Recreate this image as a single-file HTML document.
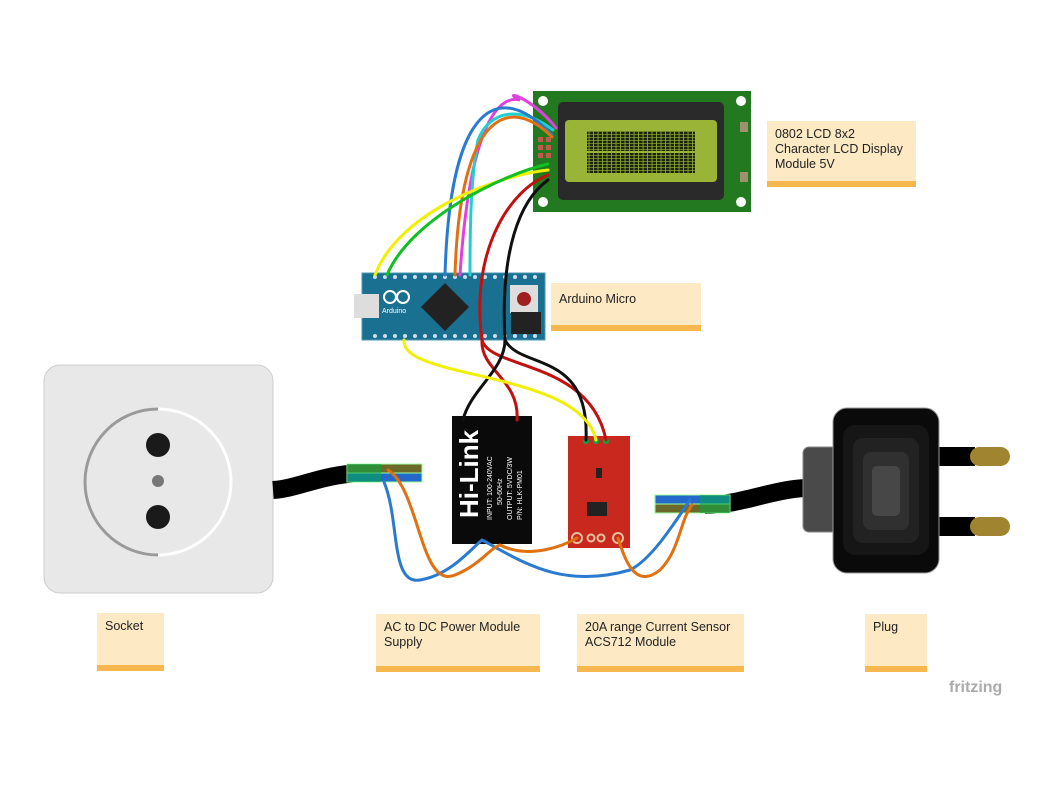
<!DOCTYPE html>
<html><head><meta charset="utf-8"><style>
body{margin:0;background:#fff;width:1059px;height:794px;overflow:hidden;font-family:"Liberation Sans","DejaVu Sans",sans-serif}
.note{position:absolute;background:#fde9c4;border-bottom:6px solid #f6b74f;font-size:12.5px;color:#222;padding:6px 8px;box-sizing:border-box;line-height:15px}
</style></head><body>
<svg width="1059" height="794" style="position:absolute;left:0;top:0">
<defs>
<pattern id="px" width="4.5" height="3" patternUnits="userSpaceOnUse"><rect width="4.5" height="3" fill="#8aa832"/><rect width="3.6" height="2.3" fill="#1c2410"/></pattern>
</defs>
<!-- socket -->
<rect x="44" y="365" width="229" height="228" rx="16" fill="#e8e8e8" stroke="#ccc"/>
<circle cx="158" cy="482" r="73" fill="none" stroke="#fff" stroke-width="3"/>
<path d="M158 409 A73 73 0 0 0 158 555" fill="none" stroke="#9a9a9a" stroke-width="3"/>
<circle cx="158" cy="445" r="12" fill="#1a1a1a"/>
<circle cx="158" cy="517" r="12" fill="#1a1a1a"/>
<circle cx="158" cy="481" r="6" fill="#777"/>
<!-- socket cable -->
<path d="M273 490 C300 488 320 475 360 473 L395 473" stroke="#000" stroke-width="18" fill="none"/>
<rect x="347" y="464" width="75" height="9" fill="#6b6a2a" stroke="#9f9" stroke-width="1"/>
<rect x="347" y="473" width="75" height="9" fill="#2469c9" stroke="#9f9" stroke-width="1"/>
<rect x="347" y="464" width="34" height="18" fill="#0a4" opacity=".55"/>
<!-- plug cable -->
<path d="M705 505 C740 505 770 490 805 488" stroke="#000" stroke-width="18" fill="none"/>
<rect x="655" y="495" width="75" height="9" fill="#2469c9" stroke="#9f9"/>
<rect x="655" y="504" width="75" height="9" fill="#6b6a2a" stroke="#9f9"/>
<rect x="700" y="495" width="30" height="18" fill="#0a4" opacity=".55"/>
<!-- plug -->
<rect x="803" y="447" width="34" height="85" rx="6" fill="#4a4a4a" stroke="#888"/>
<rect x="935" y="447" width="40" height="19" fill="#000"/>
<rect x="935" y="517" width="40" height="19" fill="#000"/>
<rect x="970" y="447" width="40" height="19" rx="9.5" fill="#a08430"/>
<rect x="970" y="517" width="40" height="19" rx="9.5" fill="#a08430"/>
<rect x="833" y="408" width="106" height="165" rx="14" fill="#0a0a0a" stroke="#999"/>
<rect x="843" y="425" width="86" height="130" rx="12" fill="#161616"/>
<rect x="853" y="438" width="66" height="105" rx="10" fill="#222"/>
<rect x="863" y="452" width="46" height="78" rx="8" fill="#303030"/>
<rect x="872" y="466" width="28" height="50" rx="5" fill="#474747"/>
<!-- LCD -->
<rect x="533" y="91" width="218" height="121" fill="#23791f"/>
<circle cx="543" cy="101" r="5" fill="#fff"/><circle cx="741" cy="101" r="5" fill="#fff"/>
<circle cx="543" cy="202" r="5" fill="#fff"/><circle cx="741" cy="202" r="5" fill="#fff"/>
<rect x="740" y="122" width="8" height="10" fill="#a09070"/><rect x="740" y="172" width="8" height="10" fill="#a09070"/>
<rect x="558" y="102" width="166" height="98" rx="5" fill="#2a2a2a"/>
<rect x="565" y="120" width="152" height="62" rx="4" fill="#9ab437"/>
<rect x="587" y="131" width="108" height="20" fill="url(#px)"/>
<rect x="587" y="153" width="108" height="20" fill="url(#px)"/>
<g fill="#c05a4a"><rect x="538" y="137" width="5" height="5"/><rect x="546" y="137" width="5" height="5"/><rect x="538" y="145" width="5" height="5"/><rect x="546" y="145" width="5" height="5"/><rect x="538" y="153" width="5" height="5"/><rect x="546" y="153" width="5" height="5"/></g>
<!-- Arduino -->
<rect x="362" y="273" width="183" height="67" fill="#1a7090" stroke="#4a9ab0"/>
<rect x="354" y="294" width="25" height="24" fill="#ddd"/>
<rect x="428" y="290" width="34" height="34" fill="#222" transform="rotate(45 445 307)"/>
<rect x="510" y="285" width="28" height="28" fill="#ddd"/><circle cx="524" cy="299" r="7" fill="#a02020"/>
<rect x="511" y="312" width="30" height="22" fill="#222"/>
<circle cx="390" cy="297" r="6" fill="none" stroke="#fff" stroke-width="2"/><circle cx="403" cy="297" r="6" fill="none" stroke="#fff" stroke-width="2"/>
<text x="382" y="313" font-size="7" fill="#fff">Arduino</text>
<g fill="#cde">
<circle cx="375" cy="277" r="2"/><circle cx="385" cy="277" r="2"/><circle cx="395" cy="277" r="2"/><circle cx="405" cy="277" r="2"/><circle cx="415" cy="277" r="2"/><circle cx="425" cy="277" r="2"/><circle cx="435" cy="277" r="2"/><circle cx="445" cy="277" r="2"/><circle cx="455" cy="277" r="2"/><circle cx="465" cy="277" r="2"/><circle cx="475" cy="277" r="2"/><circle cx="485" cy="277" r="2"/><circle cx="495" cy="277" r="2"/><circle cx="505" cy="277" r="2"/><circle cx="515" cy="277" r="2"/><circle cx="525" cy="277" r="2"/><circle cx="535" cy="277" r="2"/>
<circle cx="375" cy="336" r="2"/><circle cx="385" cy="336" r="2"/><circle cx="395" cy="336" r="2"/><circle cx="405" cy="336" r="2"/><circle cx="415" cy="336" r="2"/><circle cx="425" cy="336" r="2"/><circle cx="435" cy="336" r="2"/><circle cx="445" cy="336" r="2"/><circle cx="455" cy="336" r="2"/><circle cx="465" cy="336" r="2"/><circle cx="475" cy="336" r="2"/><circle cx="485" cy="336" r="2"/><circle cx="495" cy="336" r="2"/><circle cx="505" cy="336" r="2"/><circle cx="515" cy="336" r="2"/><circle cx="525" cy="336" r="2"/><circle cx="535" cy="336" r="2"/>
</g>
<!-- HLK -->
<rect x="452" y="416" width="80" height="128" fill="#0a0a0a"/>
<text x="0" y="0" font-size="26" font-weight="bold" fill="#fff" transform="translate(478 518) rotate(-90)">Hi-Link</text>
<text x="0" y="0" font-size="7" fill="#fff" transform="translate(492 520) rotate(-90)">INPUT: 100-240VAC</text>
<text x="0" y="0" font-size="7" fill="#fff" transform="translate(502 505) rotate(-90)">50-60Hz</text>
<text x="0" y="0" font-size="7" fill="#fff" transform="translate(512 520) rotate(-90)">OUTPUT: 5VDC/3W</text>
<text x="0" y="0" font-size="7" fill="#fff" transform="translate(522 520) rotate(-90)">P/N: HLK-PM01</text>
<!-- sensor -->
<rect x="568" y="436" width="62" height="112" fill="#c8281e"/>
<rect x="587" y="502" width="20" height="14" fill="#222"/>
<rect x="596" y="468" width="6" height="10" fill="#222"/>
<g fill="none" stroke="#e8c0a0" stroke-width="2"><circle cx="577" cy="538" r="5"/><circle cx="591" cy="538" r="3.5"/><circle cx="601" cy="538" r="3.5"/><circle cx="618" cy="538" r="5"/></g>
<g fill="#0a4"><circle cx="586" cy="441" r="3"/><circle cx="596" cy="441" r="3"/><circle cx="606" cy="441" r="3"/></g>
<!-- wires -->
<g fill="none" stroke-width="3" stroke-linecap="round">
<path d="M556 128 C530 95 500 90 520 100 C500 95 470 120 460 275" stroke="#e040e0"/>
<path d="M553 130 C520 105 490 110 478 140 C470 180 470 240 470 275" stroke="#20d0d0"/>
<path d="M552 135 C500 80 450 100 445 275" stroke="#2a7ad0"/>
<path d="M552 137 C510 95 460 110 455 275" stroke="#e07010"/>
<path d="M548 170 C500 175 400 210 375 275" stroke="#f0f000"/>
<path d="M548 164 C500 175 410 220 387 275" stroke="#10c020"/>
<path d="M548 175 C510 190 470 250 482 340 C490 370 590 360 606 440" stroke="#c01010"/>
<path d="M548 180 C520 200 500 250 505 340 C520 370 590 350 586 440" stroke="#101010"/>
<path d="M482 340 C480 370 520 380 517 420" stroke="#c01010"/>
<path d="M505 340 C505 370 470 390 463 420" stroke="#101010"/>
<path d="M404 340 C400 380 580 370 596 440" stroke="#f0f000"/>
<path d="M384 482 C400 520 390 585 420 580 C450 575 470 550 482 540 C520 560 560 590 630 570 C650 560 670 530 690 500" stroke="#2a7ad0"/>
<path d="M388 470 C420 490 420 590 455 575 C480 565 490 548 500 545 C530 560 565 545 577 538" stroke="#e07010"/>
<path d="M618 538 C625 560 635 590 660 570 C680 550 680 520 692 505" stroke="#e07010"/>
</g>
</svg>
<div class="note" style="left:767px;top:121px;width:149px;height:66px">0802 LCD 8x2<br>Character LCD Display<br>Module 5V</div>
<div class="note" style="left:551px;top:283px;width:150px;height:48px;padding-top:9px">Arduino Micro</div>
<div class="note" style="left:97px;top:613px;width:67px;height:58px">Socket</div>
<div class="note" style="left:376px;top:614px;width:164px;height:58px">AC to DC Power Module<br>Supply</div>
<div class="note" style="left:577px;top:614px;width:167px;height:58px">20A range Current Sensor<br>ACS712 Module</div>
<div class="note" style="left:865px;top:614px;width:62px;height:58px">Plug</div>
<div style="position:absolute;left:949px;top:679px;font-size:16px;font-weight:bold;color:#aaa">fritzing</div>
</body></html>
